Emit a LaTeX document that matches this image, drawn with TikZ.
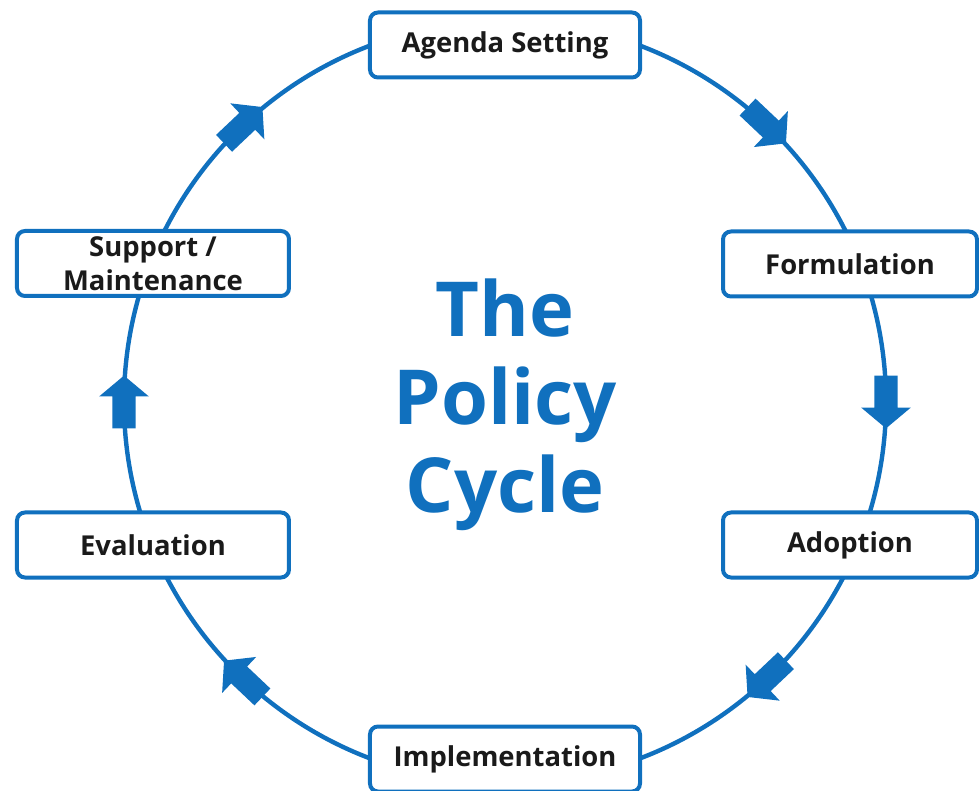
\documentclass[tikz,border=0pt]{standalone}
\usepackage{fontspec}
\setmainfont{Open Sans}
\usetikzlibrary{positioning}
\definecolor{policyblue}{RGB}{16,112,190}
\definecolor{labeltext}{RGB}{26,26,26}

\begin{document}
\begin{tikzpicture}[stage/.style={rectangle, draw=policyblue, line width=1mm, rounded corners=2mm, fill=white, minimum height=1.625cm, inner sep=0pt, align=center, text=labeltext, font=\fontsize{19.5}{24}\selectfont\bfseries}, ring/.style={draw=policyblue, line width=1.1mm}, flowarrow/.pic={\fill[policyblue] (-0.66,-0.29) -- (0.14,-0.29) -- (0.14,-0.62) -- (0.66,0) -- (0.14,0.62) -- (0.14,0.29) -- (-0.66,0.29) -- cycle;}]
\useasboundingbox (-12.625,-9.725) rectangle (11.85,10.05);
\draw [ring] (0,0) circle (9.525);
% arrows round the cycle, clockwise
\pic [rotate=-43.4] at (46.6:9.525) {flowarrow};
\pic [rotate=-90] at (0:9.525) {flowarrow};
\pic [rotate=-136.6] at (-46.6:9.525) {flowarrow};
\pic [rotate=-223.4] at (-133.4:9.525) {flowarrow};
\pic [rotate=90] at (180:9.525) {flowarrow};
\pic [rotate=43.4] at (133.4:9.525) {flowarrow};
% stages
\node [stage, minimum width=6.75cm] (agenda) at (0,8.925) {Agenda Setting};
\node [stage, minimum width=6.35cm] (formulation) at (8.625,3.45) {Formulation};
\node [stage, minimum width=6.35cm] (adoption) at (8.625,-3.575) {Adoption};
\node [stage, minimum width=6.75cm] (implementation) at (0,-8.925) {Implementation};
\node [stage, minimum width=6.8cm] (evaluation) at (-8.8,-3.575) {Evaluation};
\node [stage, minimum width=6.8cm] (support) at (-8.8,3.4625) {Support /\\Maintenance};
\node [inner sep=0pt, align=center, text=policyblue, font=\fontsize{54}{62.6}\selectfont\bfseries] (title) at (0,-0.06) {The\\Policy\\Cycle};
\end{tikzpicture}
\end{document}
